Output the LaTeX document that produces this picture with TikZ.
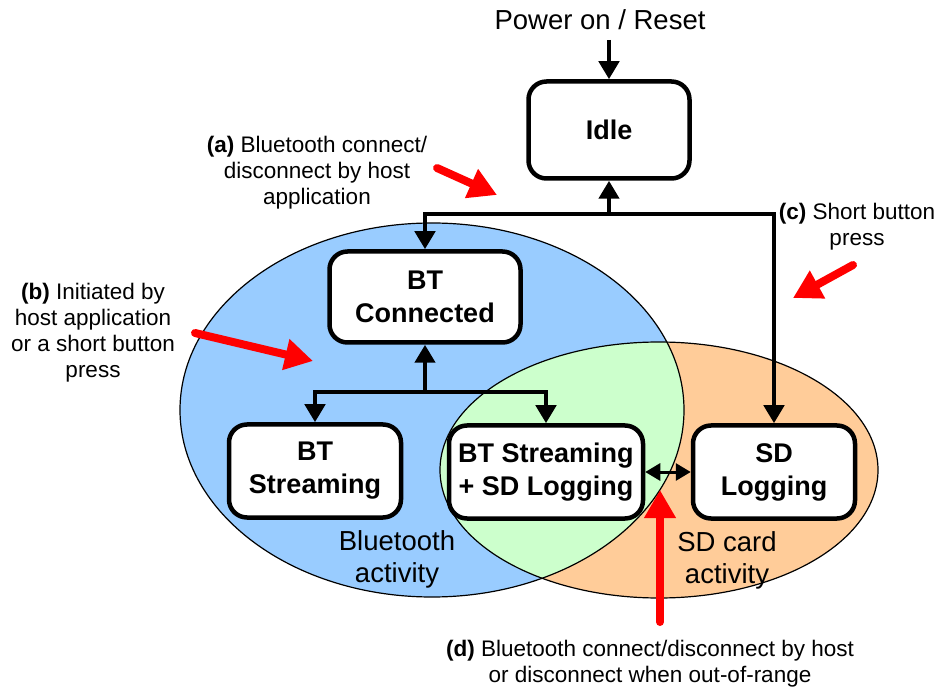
\documentclass[tikz,border=0pt]{standalone}
\usepackage{fontspec}
\setmainfont{Liberation Sans}
\usepackage{tikz}
\usetikzlibrary{arrows.meta}
\definecolor{btblue}{HTML}{99CCFF}
\definecolor{sdorange}{HTML}{FFCC99}
\definecolor{bothgreen}{HTML}{CCFFCC}

\begin{document}
\begin{tikzpicture}[x=1pt,y=-1pt,
  state/.style={draw,line width=4.5pt,rounded corners=18pt,fill=white,align=center,
    inner sep=0pt,font=\fontsize{27}{33}\selectfont\bfseries},
  conn/.style={line width=4.5pt,-{Triangle[length=18pt,width=20pt]}},
  both/.style={line width=3pt,{Triangle[length=15pt,width=17pt]}-{Triangle[length=15pt,width=17pt]}},
  hintarrow/.style={red,line width=8pt,line cap=round,-{Triangle[length=28pt,width=30pt]}},
  note/.style={align=center,font=\fontsize{22.5}{26}\selectfont},
  area/.style={align=center,font=\fontsize{27.5}{32}\selectfont}]
\useasboundingbox (0,0) rectangle (940,692);

% activity regions
\fill[btblue] (432,410) ellipse [x radius=252,y radius=187];
\fill[sdorange] (659,470) ellipse [x radius=219,y radius=128];
\begin{scope}
  \clip (432,410) ellipse [x radius=252,y radius=187];
  \fill[bothgreen] (659,470) ellipse [x radius=219,y radius=128];
\end{scope}
\draw[line width=1.2pt] (432,410) ellipse [x radius=252,y radius=187];
\draw[line width=1.2pt] (659,470) ellipse [x radius=219,y radius=128];
\node[area] (btarea) at (397,559) {Bluetooth\\activity};
\node[area] (sdarea) at (727,560) {SD card\\activity};

% states
\node[state,minimum width=161pt,minimum height=97pt] (idle) at (609,130) {Idle};
\node[state,minimum width=191pt,minimum height=91pt] (btconn) at (425,297) {BT\\Connected};
\node[state,minimum width=172pt,minimum height=93pt] (btstream) at (315,471) {BT\\Streaming};
\node[state,minimum width=194pt,minimum height=93pt] (btsd) at (546,472) {BT Streaming\\+ SD Logging};
\node[state,minimum width=162pt,minimum height=93pt] (sdlog) at (774,472) {SD\\Logging};

% transitions
\node[area] (power) at (600,20) {Power on / Reset};
\coordinate (powerdrop) at (609,40);
\coordinate (topjoin) at (609,214);
\coordinate (lowjoin) at (425,392);
\draw[conn] (powerdrop) -- (idle.north);
\draw[conn] (topjoin) -- (idle.south);
\draw[conn] (topjoin) -| (btconn.north);
\draw[conn] (topjoin) -| (sdlog.north);
\draw[conn] (lowjoin) -- (btconn.south);
\draw[conn] (lowjoin) -| (btstream.north);
\draw[conn] (lowjoin) -| (btsd.north);
\draw[both] (btsd.east) -- (sdlog.west);

% notes
\node[note] (notea) at (317,173) {\textbf{(a)} Bluetooth connect/\\disconnect by host\\application};
\node[note] (noteb) at (93,333) {\textbf{(b)} Initiated by\\host application\\or a short button\\press};
\node[note] (notec) at (857,227) {\textbf{(c)} Short button\\press};
\node[note] (noted) at (650,664) {\textbf{(d)} Bluetooth connect/disconnect by host\\or disconnect when out-of-range};
\coordinate (atail) at (437,168);
\coordinate (atip) at (497,195);
\coordinate (btail) at (195,333);
\coordinate (btip) at (313,361);
\coordinate (ctail) at (853,265);
\coordinate (ctip) at (793,298);
\coordinate (dtail) at (660,622);
\coordinate (dtip) at (660,490);
\draw[hintarrow] (atail) -- (atip);
\draw[hintarrow] (btail) -- (btip);
\draw[hintarrow] (ctail) -- (ctip);
\draw[hintarrow] (dtail) -- (dtip);
\end{tikzpicture}
\end{document}
